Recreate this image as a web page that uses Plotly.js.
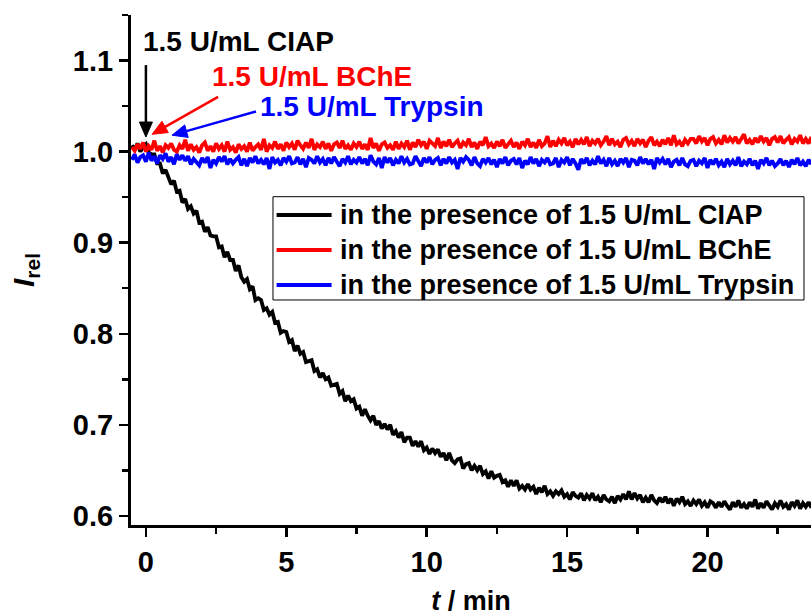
<!DOCTYPE html>
<html><head><meta charset="utf-8">
<script src="https://cdn.plot.ly/plotly-3.0.1.min.js"></script>
<style>html,body{margin:0;padding:0;background:#fff;overflow:hidden}#chart{width:811px;height:616px}</style>
</head><body><div id="chart"></div>
<script>
// sampling of the recorded traces (minutes)
const tStart = -0.5;
const tStep = 0.1;

const relCIAP = [
1.007,1.002,1.009,1.000,1.005,1.008,0.999,0.997,0.997,0.987,
0.987,0.976,0.980,0.972,0.964,0.968,0.956,0.957,0.944,0.948,
0.937,0.940,0.932,0.935,0.922,0.923,0.912,0.917,0.908,0.907,
0.907,0.895,0.896,0.884,0.890,0.881,0.881,0.869,0.875,0.862,
0.857,0.860,0.849,0.852,0.837,0.839,0.837,0.826,0.828,0.821,
0.824,0.812,0.813,0.801,0.803,0.802,0.791,0.793,0.781,0.787,
0.778,0.780,0.769,0.770,0.771,0.759,0.761,0.752,0.757,0.750,
0.752,0.743,0.744,0.745,0.734,0.737,0.726,0.732,0.726,0.728,
0.718,0.720,0.710,0.717,0.710,0.705,0.710,0.700,0.704,0.696,
0.701,0.695,0.700,0.689,0.693,0.686,0.692,0.681,0.686,0.686,
0.677,0.682,0.676,0.682,0.672,0.675,0.668,0.674,0.669,0.673,
0.665,0.669,0.661,0.669,0.661,0.658,0.662,0.663,0.652,0.657,
0.658,0.650,0.655,0.650,0.655,0.646,0.649,0.641,0.649,0.642,
0.644,0.645,0.637,0.639,0.632,0.639,0.633,0.639,0.630,0.633,
0.629,0.635,0.629,0.632,0.624,0.631,0.626,0.633,0.624,0.627,
0.622,0.627,0.624,0.628,0.621,0.624,0.618,0.626,0.622,0.620,
0.625,0.617,0.623,0.619,0.625,0.617,0.621,0.615,0.623,0.618,
0.616,0.621,0.614,0.622,0.618,0.624,0.618,0.627,0.618,0.625,
0.619,0.623,0.615,0.620,0.615,0.623,0.617,0.614,0.620,0.615,
0.621,0.614,0.619,0.611,0.619,0.615,0.621,0.613,0.616,0.611,
0.617,0.613,0.618,0.611,0.615,0.609,0.616,0.614,0.609,0.615,
0.610,0.616,0.611,0.607,0.615,0.610,0.617,0.609,0.613,0.608,
0.615,0.610,0.618,0.608,0.614,0.609,0.616,0.611,0.607,0.614,
0.610,0.617,0.610,0.613,0.607,0.615,0.611,0.617,0.608,0.614,
0.610,0.615,0.609];

const relBChE = [
1.005,1.001,1.008,1.003,1.010,1.000,1.006,1.002,1.012,1.001,
1.006,0.999,1.007,1.004,1.009,1.002,1.000,1.007,1.003,1.013,
1.001,1.008,1.002,1.005,0.999,1.007,1.010,1.001,1.006,1.000,
1.009,1.003,1.007,1.000,1.011,1.002,1.005,0.999,1.008,1.003,
1.006,1.000,1.010,1.001,1.005,1.008,1.002,1.014,1.000,1.007,
1.004,1.011,1.003,1.008,1.001,1.010,1.005,1.009,1.002,1.012,
1.007,1.003,1.010,1.004,1.014,1.002,1.008,1.005,1.011,1.003,
1.009,1.001,1.008,1.010,1.004,1.012,1.003,1.007,1.002,1.009,
1.005,1.011,1.003,1.008,1.002,1.015,1.004,1.009,1.001,1.008,
1.010,1.004,1.007,1.002,1.011,1.003,1.009,1.005,1.012,1.002,
1.010,1.005,1.013,1.007,1.011,1.003,1.012,1.009,1.006,1.015,
1.004,1.011,1.006,1.013,1.005,1.009,1.012,1.004,1.010,1.007,
1.014,1.005,1.010,1.003,1.011,1.007,1.016,1.006,1.009,1.004,
1.011,1.006,1.013,1.004,1.009,1.012,1.005,1.010,1.003,1.011,
1.007,1.014,1.005,1.010,1.004,1.013,1.006,1.009,1.017,1.005,
1.012,1.006,1.013,1.009,1.015,1.007,1.011,1.005,1.014,1.008,
1.013,1.008,1.016,1.006,1.012,1.009,1.014,1.007,1.011,1.017,
1.007,1.014,1.008,1.011,1.005,1.013,1.015,1.008,1.012,1.006,
1.014,1.009,1.013,1.005,1.012,1.016,1.007,1.011,1.006,1.013,
1.008,1.015,1.007,1.018,1.008,1.011,1.006,1.013,1.009,1.014,
1.014,1.009,1.017,1.011,1.015,1.007,1.014,1.016,1.009,1.013,
1.008,1.018,1.010,1.015,1.011,1.016,1.009,1.014,1.019,1.009,
1.013,1.008,1.015,1.010,1.017,1.011,1.015,1.007,1.014,1.016,
1.010,1.017,1.009,1.013,1.016,1.008,1.014,1.011,1.018,1.009,
1.014,1.009,1.016];

const relTrypsin = [
0.991,0.997,0.988,0.994,0.996,0.989,0.999,0.990,0.995,0.987,
0.996,0.992,0.998,0.989,0.994,0.986,0.997,0.991,0.996,0.990,
0.995,0.986,0.992,0.989,0.985,0.993,0.988,0.994,0.982,0.991,
0.987,0.994,0.989,0.995,0.986,0.992,0.987,0.991,0.994,0.985,
0.992,0.984,0.993,0.988,0.995,0.987,0.991,0.986,0.993,0.981,
0.994,0.988,0.991,0.985,0.993,0.989,0.995,0.987,0.988,0.994,
0.986,0.992,0.983,0.993,0.991,0.987,0.995,0.988,0.992,0.985,
0.993,0.987,0.994,0.989,0.984,0.992,0.988,0.995,0.986,0.991,
0.988,0.994,0.987,0.992,0.985,0.996,0.989,0.986,0.993,0.982,
0.994,0.988,0.993,0.985,0.991,0.987,0.995,0.988,0.992,0.986,
0.987,0.995,0.989,0.984,0.993,0.988,0.994,0.986,0.991,0.993,
0.985,0.992,0.987,0.994,0.988,0.991,0.981,0.993,0.989,0.994,
0.991,0.985,0.994,0.987,0.984,0.992,0.988,0.993,0.986,0.991,
0.983,0.992,0.987,0.994,0.985,0.990,0.992,0.986,0.993,0.982,
0.990,0.986,0.994,0.987,0.992,0.984,0.991,0.988,0.993,0.986,
0.987,0.993,0.983,0.991,0.988,0.994,0.985,0.992,0.987,0.980,
0.992,0.987,0.993,0.985,0.990,0.986,0.995,0.987,0.991,0.984,
0.993,0.986,0.990,0.984,0.992,0.988,0.993,0.983,0.991,0.990,
0.985,0.994,0.987,0.992,0.986,0.991,0.981,0.993,0.988,0.992,
0.986,0.992,0.983,0.989,0.991,0.985,0.993,0.986,0.984,0.990,
0.991,0.984,0.990,0.987,0.993,0.982,0.991,0.986,0.992,0.985,
0.989,0.983,0.992,0.986,0.990,0.985,0.994,0.984,0.989,0.986,
0.992,0.985,0.990,0.981,0.991,0.987,0.993,0.985,0.990,0.984,
0.987,0.992,0.985,0.990,0.983,0.991,0.986,0.993,0.985,0.989,
0.984,0.991,0.986];

const seriesNames = [
  'in the presence of 1.5 U/mL CIAP',
  'in the presence of 1.5 U/mL BChE',
  'in the presence of 1.5 U/mL Trypsin'];
const seriesColors = ['#000000', '#ff0000', '#0000ff'];
const labels = ['1.5 U/mL CIAP', '1.5 U/mL BChE', '1.5 U/mL Trypsin'];
// addition arrows: [tipT, tipI, tailT, tailI]
const arrowTips  = [[0.0, 1.016], [0.22, 1.019], [0.93, 1.018]];
const arrowTails = [[0.0, 1.095], [2.57, 1.060], [3.92, 1.044]];

const FONT = 'Liberation Sans, Arial, Helvetica, sans-serif';
const W = 811, H = 616, M = {l: 131, r: 0, t: 15, b: 91};
const xr = [-0.531, 23.686], yr = [0.590, 1.150];

const data = [relCIAP, relBChE, relTrypsin].map((ys, i) => ({
  type: 'scatter', mode: 'lines', x0: tStart, dx: tStep, y: ys, name: seriesNames[i],
  line: {color: seriesColors[i], width: 3.8}, showlegend: false
}));

// legend drawn as a boxed key (paper coordinates)
const keyBox = {x0: 0.2088, x1: 0.9897, y0: 0.4412, y1: 0.6437};
const keyRowsY = [0.6078, 0.5392, 0.4706];
const keyLineX = [0.2141, 0.2950];
const keyTextX = 0.3044;

let shapes = [
  {type: 'rect', xref: 'paper', yref: 'paper', x0: keyBox.x0, x1: keyBox.x1, y0: keyBox.y0, y1: keyBox.y1,
   line: {color: '#000', width: 1}, fillcolor: '#fff', layer: 'above'}
].concat(keyRowsY.map((y, i) => ({
  type: 'line', xref: 'paper', yref: 'paper', x0: keyLineX[0], x1: keyLineX[1], y0: y, y1: y,
  line: {color: seriesColors[i], width: 4}, layer: 'above'
})));

// arrows as line + filled head, head size set in pixels
const pxX = (W - M.l - M.r) / (xr[1] - xr[0]);
const pxY = (H - M.t - M.b) / (yr[1] - yr[0]);
arrowTips.forEach((tip, i) => {
  const tail = arrowTails[i];
  const dxp = (tip[0] - tail[0]) * pxX, dyp = (tip[1] - tail[1]) * pxY;
  const len = Math.hypot(dxp, dyp), ux = dxp / len, uy = dyp / len;
  const headL = 15, headW = 6.5;
  const bx = -ux * headL, by = -uy * headL;
  const toData = (px, py) => [tip[0] + px / pxX, tip[1] + py / pxY];
  const base = toData(bx, by);
  const p1 = toData(bx - uy * headW, by + ux * headW);
  const p2 = toData(bx + uy * headW, by - ux * headW);
  shapes.push({type: 'line', xref: 'x', yref: 'y', x0: tail[0], y0: tail[1], x1: base[0], y1: base[1],
    line: {color: seriesColors[i], width: 2.5}, layer: 'above'});
  shapes.push({type: 'path', xref: 'x', yref: 'y', layer: 'above',
    path: `M${tip[0]},${tip[1]} L${p1[0]},${p1[1]} L${p2[0]},${p2[1]} Z`,
    fillcolor: seriesColors[i], line: {color: seriesColors[i], width: 1}});
});

const annotations = keyRowsY.map((y, i) => ({
  xref: 'paper', yref: 'paper', x: keyTextX, y: y, xanchor: 'left', yanchor: 'middle', showarrow: false,
  text: seriesNames[i], font: {family: FONT, size: 27, color: '#000', weight: 'bold'}
})).concat([
  {xref: 'x', yref: 'y', x: -0.17, y: 1.121, xanchor: 'left', yanchor: 'middle', showarrow: false,
   text: labels[0], font: {family: FONT, size: 28, color: seriesColors[0], weight: 'bold'}},
  {xref: 'x', yref: 'y', x: 2.28, y: 1.083, xanchor: 'left', yanchor: 'middle', showarrow: false,
   text: labels[1], font: {family: FONT, size: 28, color: seriesColors[1], weight: 'bold'}},
  {xref: 'x', yref: 'y', x: 3.99, y: 1.049, xanchor: 'left', yanchor: 'middle', showarrow: false,
   text: labels[2], font: {family: FONT, size: 28, color: seriesColors[2], weight: 'bold'}}
]);

const axisCommon = {
  showgrid: false, zeroline: false, showline: true, linecolor: '#000', linewidth: 3,
  ticks: 'outside', ticklen: 9, tickwidth: 2.5, tickcolor: '#000',
  tickfont: {family: FONT, size: 29, color: '#000', weight: 'bold'},
  minor: {ticks: 'outside', ticklen: 6, tickwidth: 2.5, tickcolor: '#000'}
};

const layout = {
  width: W, height: H, margin: M,
  paper_bgcolor: '#fff', plot_bgcolor: '#fff',
  font: {family: FONT, color: '#000'},
  showlegend: false,
  xaxis: Object.assign({}, axisCommon, {
    range: xr, tickmode: 'linear', tick0: 0, dtick: 5,
    minor: Object.assign({}, axisCommon.minor, {dtick: 2.5}),
    title: {text: '<i>t</i> / min', font: {family: FONT, size: 27, color: '#000', weight: 'bold'}, standoff: 28}
  }),
  xaxis2: {overlaying: 'x', side: 'top', range: xr, showgrid: false, zeroline: false,
    showline: true, linecolor: '#000', linewidth: 3, showticklabels: false,
    ticks: 'inside', ticklen: 4, tickwidth: 2, tickcolor: '#000', tickmode: 'linear', tick0: 0, dtick: 2.5},
  yaxis: Object.assign({}, axisCommon, {
    range: yr, tickmode: 'linear', tick0: 0.6, dtick: 0.1, tickformat: '.1f',
    minor: Object.assign({}, axisCommon.minor, {dtick: 0.05}),
    title: {text: '<i>I</i><sub>rel</sub>', font: {family: FONT, size: 30, color: '#000', weight: 'bold'}, standoff: 30}
  }),
  shapes: shapes,
  annotations: annotations
};

Plotly.newPlot('chart', data, layout, {displayModeBar: false, staticPlot: true});
</script></body></html>
